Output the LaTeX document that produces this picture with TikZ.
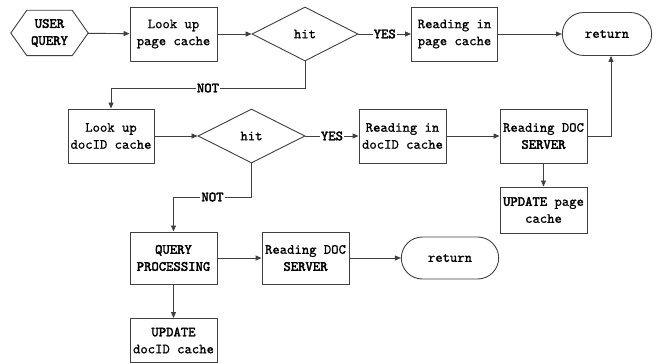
\documentclass[tikz,border=0pt]{standalone}
\usepackage{fontspec}
\setmainfont{lmmono10-regular.otf}[UprightFeatures={FakeBold=0.8}, AutoFakeBold=2.5]
\usetikzlibrary{arrows.meta,shapes.geometric,shapes.misc,calc}
\definecolor{ln}{HTML}{404040}
\tikzset{
  txt/.style={font=\fontsize{14}{17}\selectfont},
  box/.style={draw=ln, line width=0.9pt, minimum width=87pt, minimum height=54pt, inner sep=1pt, align=center, txt},
  dia/.style={draw=ln, line width=0.9pt, diamond, aspect=2, minimum width=106pt, minimum height=54pt, inner sep=0pt, txt},
  term/.style={draw=ln, line width=0.9pt, rounded rectangle, minimum width=96pt, minimum height=43pt, txt},
  arr/.style={draw=ln, line width=0.9pt, -{Triangle[length=6pt,width=5pt]}},
  lbl/.style={fill=white, inner sep=1pt, font=\bfseries\fontsize{14}{17}\selectfont}
}
\begin{document}
\begin{tikzpicture}[x=1pt,y=-1pt]
\useasboundingbox (0,0) rectangle (656,363);
% nodes
\node[minimum width=77pt, minimum height=45pt, inner sep=0pt, align=center, font=\bfseries\fontsize{14}{17}\selectfont] (uq) at (49.5,33) {USER\\QUERY};
\draw[ln, line width=0.9pt] (uq.west) -- ($(uq.north west)+(16,0)$) -- ($(uq.north east)+(-16,0)$) -- (uq.east) -- ($(uq.south east)+(-16,0)$) -- ($(uq.south west)+(16,0)$) -- cycle;
\node[box] (lpc) at (173.5,34) {Look up\\page cache};
\node[dia] (hit1) at (305,34) {hit};
\node[box, minimum width=86pt] (rpc) at (454.5,34) {Reading in\\page cache};
\node[term] (ret1) at (607,34) {return};
\node[box, minimum width=86pt] (ldc) at (111,136) {Look up\\docID cache};
\node[dia, minimum width=107pt] (hit2) at (251.5,136) {hit};
\node[box] (rdc) at (402.5,136) {Reading in\\docID cache};
\node[box] (rds1) at (543.5,136) {Reading DOC\\\textbf{SERVER}};
\node[box, minimum height=46pt] (upc) at (543.5,210) {\textbf{UPDATE} page\\cache};
\node[box, minimum height=52pt] (qp) at (173.5,258) {\textbf{QUERY}\\\textbf{PROCESSING}};
\node[box, minimum height=52pt] (rds2) at (305.5,258) {Reading DOC\\\textbf{SERVER}};
\node[term, minimum width=104pt, minimum height=42pt] (ret2) at (450,258) {return};
\node[box, minimum height=44pt] (udc) at (173.5,340.5) {\textbf{UPDATE}\\docID cache};
\coordinate (n1) at (305,88);
\coordinate (n2) at (251.5,197);
\coordinate (r1) at ($(ret1.south)+(4,0)$);
% connectors
\draw[arr] (uq) -- (lpc);
\draw[arr] (lpc) -- (hit1);
\draw[arr] (hit1.east) -- node[lbl] {YES} (rpc.west);
\draw[arr] (rpc) -- (ret1);
\draw[arr] (hit1.south) -- (n1) -| node[lbl, pos=0.25] {NOT} (ldc.north);
\draw[arr] (ldc) -- (hit2);
\draw[arr] (hit2.east) -- node[lbl] {YES} (rdc.west);
\draw[arr] (rdc) -- (rds1);
\draw[arr] (rds1.east) -| (r1);
\draw[arr] (rds1) -- (upc);
\draw[arr] (hit2.south) -- (n2) -| node[lbl, pos=0.25] {NOT} (qp.north);
\draw[arr] (qp) -- (rds2);
\draw[arr] (rds2) -- (ret2);
\draw[arr] (qp) -- (udc);
\end{tikzpicture}
\end{document}
